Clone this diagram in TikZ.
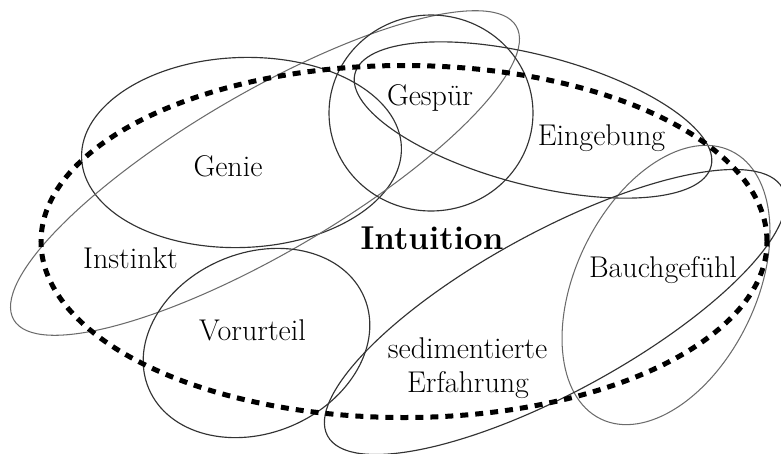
\documentclass[tikz,border=0pt]{standalone}
\begin{document}
\begin{tikzpicture}[x=1pt,y=1pt,
  ring/.style={draw=black!80,line width=1.15pt},
  lightring/.style={draw=black!58,line width=1.05pt},
  bigring/.style={draw=black,line width=5pt,dash pattern=on 8pt off 7pt},
  lbl/.style={anchor=base,inner sep=0pt,font=\fontsize{30}{34}\selectfont},
  title/.style={anchor=base,inner sep=0pt,font=\fontsize{33}{38}\selectfont\bfseries}]
\useasboundingbox (0,0) rectangle (781,-453);
% ellipses
\draw[ring,shift={(241.5,-152.5)},rotate=2] (0,0) ellipse[x radius=160,y radius=95];
\draw[lightring,shift={(265,-173)},rotate=30.3] (0,0) ellipse[x radius=291,y radius=80];
\draw[ring,shift={(431,-113)}] (0,0) ellipse[x radius=102,y radius=98];
\draw[ring,shift={(533,-120)},rotate=-14.6] (0,0) ellipse[x radius=184,y radius=65];
\draw[lightring,shift={(666,-285)},rotate=64] (0,0) ellipse[x radius=149,y radius=90];
\draw[ring,shift={(555,-312)},rotate=28.6] (0,0) ellipse[x radius=259,y radius=80];
\draw[ring,shift={(256.5,-343)},rotate=23] (0,0) ellipse[x radius=117,y radius=90];
\draw[bigring] (404,-241.5) ellipse[x radius=363,y radius=176];
% labels
\node[lbl] (genie) at (228,-176) {Genie};
\node[lbl] (gespuer) at (430,-105) {Gespür};
\node[lbl] (eingebung) at (601.5,-145) {Eingebung};
\node[title] (intuition) at (432,-249) {Intuition};
\node[lbl] (instinkt) at (130.5,-268) {Instinkt};
\node[lbl] (bauch) at (663,-277) {Bauchgefühl};
\node[lbl] (vorurteil) at (252.5,-340) {Vorurteil};
\node[lbl] (sediment) at (467.5,-358) {sedimentierte};
\node[lbl] (erfahrung) at (468,-392) {Erfahrung};
\end{tikzpicture}
\end{document}
